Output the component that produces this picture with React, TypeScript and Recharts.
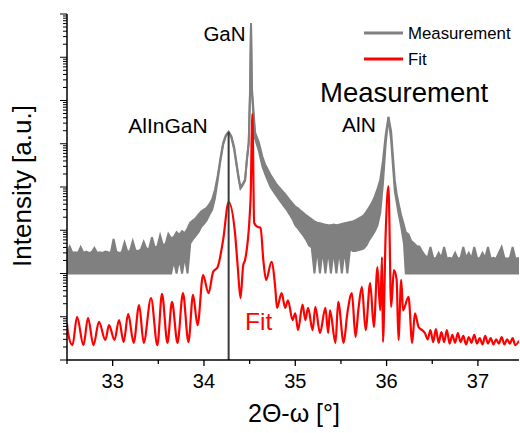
import React from 'react';
import { ComposedChart, Line, Area, XAxis, YAxis, ReferenceLine } from 'recharts';

// 2Theta-omega scan, measured band (low/high envelope of the noisy trace)
const measTheta = [
  32.5, 32.53, 32.56, 32.59, 32.62, 32.65, 32.68, 32.71, 32.74, 32.77, 32.8, 32.83, 32.86, 32.89, 32.92, 32.95, 32.98,
  33.01, 33.04, 33.07, 33.1, 33.13, 33.16, 33.19, 33.22, 33.25, 33.28, 33.31, 33.34, 33.37, 33.4, 33.43, 33.46, 33.49,
  33.52, 33.55, 33.58, 33.61, 33.64, 33.67, 33.7, 33.73, 33.76, 33.79, 33.82, 33.85, 33.88, 33.91, 33.94, 33.97,
  34.0, 34.03, 34.06, 34.09, 34.12, 34.15, 34.18, 34.21, 34.24, 34.27, 34.3, 34.33, 34.36, 34.38, 34.4, 34.42, 34.45,
  34.47, 34.49, 34.505, 34.515, 34.525, 34.54, 34.56, 34.6, 34.64, 34.67, 34.7, 34.73, 34.76, 34.79, 34.82, 34.85,
  34.88, 34.91, 34.94, 34.97, 35.0, 35.03, 35.06, 35.09, 35.12, 35.15, 35.18, 35.21, 35.24, 35.27, 35.3, 35.33, 35.36,
  35.39, 35.42, 35.45, 35.48, 35.51, 35.54, 35.57, 35.6, 35.63, 35.66, 35.69, 35.72, 35.75, 35.78, 35.81, 35.84,
  35.87, 35.9, 35.93, 35.96, 35.99, 36.02, 36.05, 36.07, 36.09, 36.11, 36.13, 36.16, 36.19, 36.21, 36.24, 36.27,
  36.3, 36.33, 36.36, 36.39, 36.42, 36.45, 36.48, 36.51, 36.54, 36.57, 36.6, 36.63, 36.66, 36.69, 36.72, 36.75,
  36.78, 36.81, 36.84, 36.87, 36.9, 36.93, 36.96, 36.99, 37.02, 37.05, 37.08, 37.11, 37.14, 37.17, 37.2, 37.23,
  37.26, 37.29, 37.32, 37.35, 37.38, 37.41, 37.45,
];
const measLow = [
  100, 100, 100, 100, 100, 100, 100, 100, 100, 100, 100, 100, 100, 100, 100, 100, 100,
  100, 100, 100, 100, 100, 100, 100, 100, 100, 100, 100, 100, 100, 100, 100, 100, 100,
  100, 100, 100, 100, 100, 200, 100, 220, 100, 250, 100, 500, 620, 750, 900, 1200,
  1400, 1700, 2300, 3000, 5500, 14000, 40000, 95000, 150000, 185000, 140000, 75000, 28000, 15000, 9200, 10500, 14000,
  40000, 100000, 1500000, 60000000, 1500000, 500000, 130000, 70000, 30000, 20000, 14000, 10000, 8000, 6500, 5200, 4300,
  3500, 2900, 2300, 1800, 1300, 1100, 900, 750, 600, 450, 400, 100, 380, 100, 360, 100, 350,
  100, 340, 100, 350, 100, 360, 100, 380, 330, 330, 350, 360, 380, 450, 600, 750,
  950, 1300, 2500, 12000, 100000, 400000, 120000, 30000, 8000, 4500, 2500, 1200, 500, 100, 100, 100,
  100, 100, 100, 100, 100, 100, 100, 100, 100, 100, 100, 100, 100, 100, 100, 100,
  100, 100, 100, 100, 100, 100, 100, 100, 100, 100, 100, 100, 100, 100, 100, 100,
  100, 100, 100, 100, 100, 100, 100,
];
const measHigh = [
  300, 420, 300, 310, 300, 410, 300, 320, 300, 310, 390, 300, 310, 300, 320, 310, 300,
  630, 320, 300, 310, 520, 320, 330, 560, 340, 330, 360, 540, 370, 380, 690, 400, 420,
  760, 450, 480, 820, 650, 700, 900, 780, 950, 850, 1100, 1500, 1700, 1900, 2300, 2700,
  3000, 3300, 4000, 5200, 8500, 18000, 46000, 105000, 160000, 190000, 150000, 85000, 32000, 17000, 9800, 11500, 15000,
  45000, 110000, 2000000, 62000000, 2000000, 700000, 180000, 110000, 50000, 33000, 25000, 19000, 15000, 12000, 10000, 8500,
  7200, 6000, 5000, 4200, 3500, 3200, 2800, 2500, 2200, 2000, 1800, 1600, 1500, 1450, 1400, 1350, 1300,
  1300, 1350, 1300, 1350, 1400, 1450, 1500, 1550, 1600, 1700, 1850, 2000, 2200, 2700, 3400, 4300,
  6000, 9000, 14500, 40000, 160000, 420000, 190000, 50000, 14000, 7000, 4300, 2200, 1300, 900, 800, 560,
  500, 430, 420, 320, 260, 230, 410, 230, 220, 300, 230, 410, 220, 230, 220, 300,
  220, 230, 410, 230, 300, 220, 410, 230, 220, 300, 230, 410, 220, 230, 220, 300,
  410, 230, 220, 230, 410, 220, 230,
];

// simulated fit
const fitTheta = [
  32.5, 32.51, 32.56, 32.61, 32.68, 32.73, 32.79, 32.85, 32.92, 32.96, 33.02, 33.07, 33.12, 33.17, 33.23, 33.29,
  33.34, 33.42, 33.49, 33.54, 33.6, 33.65, 33.71, 33.77, 33.83, 33.88, 33.93, 33.99, 34.05, 34.1, 34.15, 34.21,
  34.27, 34.34, 34.37, 34.4, 34.43, 34.45, 34.51, 34.53, 34.55, 34.59, 34.62, 34.65, 34.68, 34.74, 34.78, 34.8,
  34.85, 34.89, 34.92, 34.97, 35.0, 35.03, 35.08, 35.11, 35.14, 35.19, 35.22, 35.27, 35.33, 35.36, 35.38, 35.44,
  35.47, 35.53, 35.57, 35.62, 35.66, 35.69, 35.73, 35.77, 35.82, 35.86, 35.9, 35.93, 35.95, 35.96, 35.99, 36.02,
  36.05, 36.08, 36.11, 36.13, 36.16, 36.18, 36.24, 36.28, 36.31, 36.35, 36.39, 36.42, 36.45, 36.48, 36.51, 36.54,
  36.57, 36.6, 36.63, 36.66, 36.69, 36.72, 36.75, 36.78, 36.81, 36.84, 36.87, 36.9, 36.93, 36.96, 36.99, 37.02,
  37.05, 37.08, 37.11, 37.14, 37.17, 37.2, 37.23, 37.26, 37.29, 37.32, 37.35, 37.38, 37.41, 37.45,
];
const fitValue = [
  7, 4.4, 2.2, 9.9, 2.2, 9.4, 2.2, 7.6, 2.9, 6.4, 2.9, 8.4, 2.6, 11.6, 2.5, 18.7,
  2.5, 27, 2.2, 34, 2.5, 22, 2.5, 35, 2.6, 32, 6.4, 92, 35, 108, 141, 600,
  4500, 860, 141, 27, 157, 205, 5000, 490000, 1470, 1190, 1150, 205, 71, 185, 49, 16,
  35, 16, 24, 8.4, 12, 4.9, 19, 8.4, 16, 4.9, 17, 4.2, 16, 4.2, 14, 2.5,
  22, 2.5, 12, 35, 3.4, 14, 49, 4.9, 60, 5.8, 141, 14, 240, 2.6, 860, 10500,
  17, 120, 71, 2.9, 71, 14, 29, 2.5, 12, 5.8, 4.9, 4.2, 3.0, 4.9, 2.6, 5.2,
  2.5, 4.4, 2.6, 4.9, 2.4, 3.8, 2.5, 4.2, 2.6, 3.6, 2.3, 3.4, 2.5, 3.8, 2.4, 3.2,
  2.3, 3.6, 2.4, 3.2, 2.3, 3.0, 2.4, 3.4, 2.3, 3.0, 2.4, 3.2, 2.2, 2.8,
];

const xTickLabels = [33, 34, 35, 36, 37];
const xTicks = [32.5, 33, 33.5, 34, 34.5, 35, 35.5, 36, 36.5, 37];
const decades = [1, 10, 100, 1e3, 1e4, 1e5, 1e6, 1e7, 1e8];

const yTicks: number[] = [];
decades.forEach((d, i) => {
  yTicks.push(d);
  if (i < decades.length - 1) for (let m = 2; m <= 9; m++) yTicks.push(d * m);
});

const measData = measTheta.map((t, i) => ({ t, range: [measLow[i], measHigh[i]] }));
const fitData = fitTheta.map((t, i) => ({ t, fit: fitValue[i] }));

const isDecade = (v: number) => Math.abs(Math.log10(v) - Math.round(Math.log10(v))) < 1e-6;
const FONT = '"Liberation Sans", Arial, sans-serif';

const BottomTick = (p: any) => {
  const v = p.payload.value;
  const major = xTickLabels.includes(v);
  return (
    <g>
      <line x1={p.x} x2={p.x} y1={p.y} y2={p.y + (major ? 6 : 4)} stroke="#000" strokeWidth={1.3} />
      {major && (
        <text x={p.x} y={p.y + 28} textAnchor="middle" fontSize={20} fontFamily={FONT} fill="#000">{v}</text>
      )}
    </g>
  );
};
const TopTick = (p: any) => (
  <line x1={p.x} x2={p.x} y1={p.y} y2={p.y + 5} stroke="#000" strokeWidth={1.3} />
);
const LeftTick = (p: any) => (
  <line x1={p.x} x2={p.x - (isDecade(p.payload.value) ? 7 : 4)} y1={p.y} y2={p.y} stroke="#000" strokeWidth={1} />
);
const RightTick = (p: any) => (
  <line x1={p.x} x2={p.x - (isDecade(p.payload.value) ? 7 : 4)} y1={p.y} y2={p.y} stroke="#000" strokeWidth={1} />
);

export default function App() {
  return (
    <div style={{ position: 'absolute', left: 0, top: 0, width: 520, height: 433, background: '#fff' }}>
      <ComposedChart width={520} height={433} margin={{ top: 14, right: 1, bottom: 33, left: 61 }}>
        <XAxis xAxisId="b" dataKey="t" type="number" domain={[32.5, 37.45]} allowDataOverflow ticks={xTicks}
          interval={0} height={40} tickSize={0} tickMargin={0} tickLine={false} tick={<BottomTick />}
          axisLine={{ stroke: '#000', strokeWidth: 1.5 }} />
        <XAxis xAxisId="t" orientation="top" type="number" domain={[32.5, 37.45]} allowDataOverflow ticks={xTicks}
          interval={0} height={0} tickSize={0} tickMargin={0} tickLine={false} tick={<TopTick />}
          axisLine={{ stroke: '#000', strokeWidth: 1.5 }} />
        <YAxis yAxisId="l" scale="log" type="number" domain={[1, 1e8]} allowDataOverflow ticks={yTicks}
          interval={0} width={6} tickSize={0} tickMargin={0} tickLine={false} tick={<LeftTick />}
          axisLine={{ stroke: '#000', strokeWidth: 1.5 }} />
        <YAxis yAxisId="r" orientation="right" scale="log" type="number" domain={[1, 1e8]} allowDataOverflow
          ticks={yTicks} interval={0} width={0} tickSize={0} tickMargin={0} tickLine={false} tick={<RightTick />}
          axisLine={{ stroke: '#000', strokeWidth: 1.5 }} />
        <Area xAxisId="b" yAxisId="l" data={measData} dataKey="range" type="linear" stroke="#808080"
          strokeWidth={2} fill="#808080" fillOpacity={1} isAnimationActive={false} dot={false} activeDot={false} />
        <Line xAxisId="b" yAxisId="l" data={fitData} dataKey="fit" type="monotone" stroke="#ff0000"
          strokeWidth={2.2} dot={false} activeDot={false} isAnimationActive={false} />
        <ReferenceLine xAxisId="b" yAxisId="l" segment={[{ x: 34.27, y: 1 }, { x: 34.27, y: 187000 }]}
          stroke="#3a3a3a" strokeWidth={2} ifOverflow="visible" />
      </ComposedChart>
      <svg width={520} height={433} style={{ position: 'absolute', left: 0, top: 0, pointerEvents: 'none' }}
        fontFamily={FONT}>
        <text x={224.5} y={41} textAnchor="middle" fontSize={20.5}>GaN</text>
        <text x={168} y={133} textAnchor="middle" fontSize={21}>AlInGaN</text>
        <text x={320} y={102} fontSize={27.5}>Measurement</text>
        <text x={342} y={132} fontSize={21}>AlN</text>
        <text x={245} y={330} fontSize={24.5} fill="#ff0000">Fit</text>
        <line x1={364} x2={403} y1={33} y2={33} stroke="#808080" strokeWidth={3} />
        <text x={408} y={39} fontSize={16.8}>Measurement</text>
        <line x1={364} x2={403} y1={59} y2={59} stroke="#ff0000" strokeWidth={3} />
        <text x={408} y={65} fontSize={16.8}>Fit</text>
        <text transform="translate(31,186) rotate(-90)" textAnchor="middle" fontSize={26}>Intensity [a.u.]</text>
        <text x={294} y={422} textAnchor="middle" fontSize={25}>2Θ-ω [°]</text>
      </svg>
    </div>
  );
}
